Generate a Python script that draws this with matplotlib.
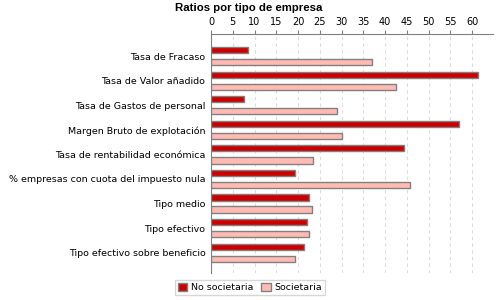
import matplotlib
matplotlib.use("Agg")
import matplotlib.pyplot as plt
import numpy as np

categories = ["Tasa de Fracaso", "Tasa de Valor añadido", "Tasa de Gastos de personal",
              "Margen Bruto de explotación", "Tasa de rentabilidad económica",
              "% empresas con cuota del impuesto nula", "Tipo medio", "Tipo efectivo",
              "Tipo efectivo sobre beneficio"]
no_societaria = [8.6, 61.4, 7.6, 56.9, 44.4, 19.4, 22.5, 22.1, 21.4]
societaria = [36.9, 42.4, 29.0, 30.2, 23.5, 45.8, 23.2, 22.6, 19.4]
xticks = list(range(0, 65, 5))

fig = plt.figure(figsize=(5, 3), dpi=100)
ax = fig.add_axes([0.422, 0.09, 0.564, 0.797])

y = np.arange(len(categories))
off = 0.245
h = 0.25
ax.barh(y - off, no_societaria, height=h, color="#CC0000", edgecolor="#808080",
        linewidth=1, label="No societaria", zorder=3)
ax.barh(y + off, societaria, height=h, color="#FFBBB3", edgecolor="#808080",
        linewidth=1, label="Societaria", zorder=3)

ax.set_ylim(len(categories) - 1 + 0.83, -0.91)
ax.set_xlim(0, 64.8)
ax.set_yticks(y)
ax.set_yticklabels(categories, fontsize=6.8)
ax.set_xticks(xticks)
ax.xaxis.tick_top()
ax.tick_params(axis="x", labelsize=7, length=3, color="#808080", pad=2)
ax.tick_params(axis="y", length=0, pad=4)
for s in ["right", "bottom"]:
    ax.spines[s].set_visible(False)
for s in ["left", "top"]:
    ax.spines[s].set_color("#808080")
ax.grid(axis="x", linestyle=(0, (3, 3)), color="#DDDDDD", linewidth=0.8, zorder=0)

fig.text(0.497, 0.99, "Ratios por tipo de empresa", ha="center", va="top",
         fontsize=8.2, fontweight="bold", family="Liberation Sans")
fig.legend(loc="lower center", bbox_to_anchor=(0.5, 0.0), ncol=2, fontsize=6.8,
           frameon=True, fancybox=False, edgecolor="#CCCCCC", handlelength=1,
           handleheight=1, handletextpad=0.4, columnspacing=0.8, borderpad=0.3)

fig.savefig("out.png", dpi=100)
